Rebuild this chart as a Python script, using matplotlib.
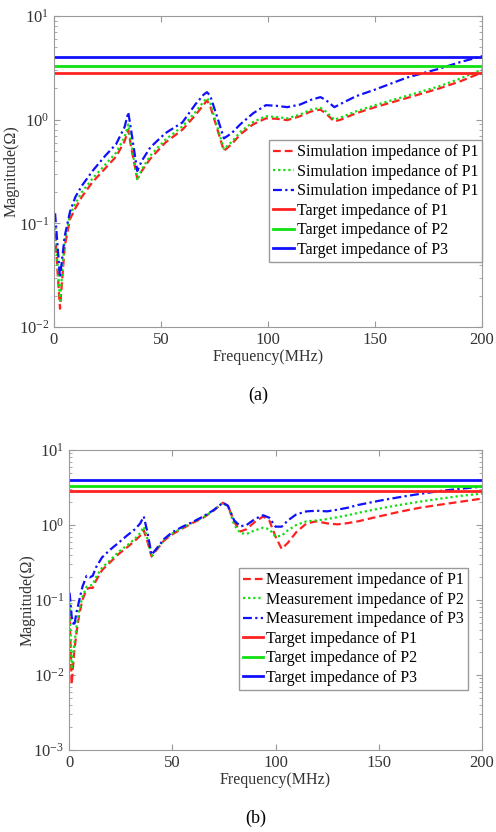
import matplotlib
matplotlib.use('Agg')
import matplotlib.pyplot as plt
import numpy as np

plt.rcParams['font.family'] = ['Liberation Serif', 'DejaVu Serif']
plt.rcParams['mathtext.fontset'] = 'custom'
plt.rcParams['mathtext.rm'] = 'Liberation Serif'

# (a) simulation
f_a = [0.5, 2.8, 5, 7.5, 10, 13, 18, 24, 29, 33, 34.7, 36, 38.9, 41, 45, 52, 60, 66, 70, 71.5, 73,
       76, 79.4, 83, 87, 93, 99, 104, 109, 115, 120, 124.5, 127, 131, 134, 141, 150, 165, 180, 190, 200]
sim_p1 = [0.08, 0.015, 0.06, 0.11, 0.14, 0.18, 0.25, 0.34, 0.44, 0.62, 0.80, 0.55, 0.27, 0.32, 0.42,
          0.60, 0.80, 1.1, 1.4, 1.53, 1.35, 0.85, 0.50, 0.58, 0.72, 0.90, 1.03, 1.02, 0.99, 1.08, 1.20,
          1.25, 1.15, 0.96, 1.0, 1.15, 1.32, 1.62, 2.0, 2.35, 2.85]
sim_p2 = [0.09, 0.018, 0.068, 0.12, 0.155, 0.2, 0.27, 0.37, 0.48, 0.68, 0.90, 0.6, 0.26, 0.33, 0.45,
          0.64, 0.86, 1.18, 1.5, 1.62, 1.45, 0.9, 0.52, 0.61, 0.76, 0.95, 1.08, 1.06, 1.03, 1.12, 1.25,
          1.3, 1.2, 1.0, 1.05, 1.2, 1.38, 1.7, 2.1, 2.5, 3.05]
sim_p3 = [0.125, 0.03, 0.075, 0.13, 0.18, 0.23, 0.32, 0.45, 0.58, 0.85, 1.18, 0.8, 0.32, 0.40, 0.54,
          0.74, 0.94, 1.4, 1.75, 1.84, 1.7, 1.1, 0.66, 0.74, 0.9, 1.15, 1.38, 1.36, 1.32, 1.4, 1.55,
          1.65, 1.55, 1.32, 1.42, 1.68, 1.95, 2.55, 3.1, 3.6, 4.1]

# (b) measurement
f_b = [0.3, 1.3, 2.5, 3.7, 5, 6.5, 8.5, 10, 11.5, 13, 16, 20, 24, 28, 32, 34.5, 36.2, 38, 40, 42, 46,
       50, 55, 60, 65, 70, 74.5, 77, 80, 83, 86, 90, 94, 97, 100, 103, 106, 110, 115, 120, 125, 130,
       135, 140, 150, 160, 170, 180, 190, 200]
meas_p1 = [0.06, 0.0075, 0.02, 0.038, 0.065, 0.1, 0.14, 0.145, 0.145, 0.18, 0.25, 0.32, 0.41, 0.5,
           0.62, 0.72, 0.85, 0.6, 0.38, 0.45, 0.62, 0.75, 0.9, 1.07, 1.25, 1.55, 1.98, 1.8, 1.1, 0.82,
           0.88, 1.1, 1.3, 1.15, 0.7, 0.48, 0.58, 0.8, 1.05, 1.12, 1.05, 1.02, 1.06, 1.12, 1.3, 1.5,
           1.7, 1.87, 2.05, 2.25]
meas_p2 = [0.09, 0.012, 0.025, 0.045, 0.075, 0.11, 0.15, 0.155, 0.16, 0.2, 0.27, 0.34, 0.44, 0.53,
           0.66, 0.78, 0.95, 0.65, 0.38, 0.46, 0.63, 0.77, 0.92, 1.09, 1.27, 1.56, 1.98, 1.75, 1.0,
           0.78, 0.76, 0.85, 0.92, 0.88, 0.7, 0.72, 0.85, 1.0, 1.12, 1.15, 1.2, 1.27, 1.35, 1.45,
           1.65, 1.85, 2.05, 2.25, 2.45, 2.62]
meas_p3 = [0.125, 0.06, 0.045, 0.07, 0.1, 0.15, 0.21, 0.2, 0.21, 0.27, 0.37, 0.47, 0.58, 0.72, 0.88,
           1.05, 1.3, 0.8, 0.4, 0.47, 0.65, 0.8, 0.95, 1.1, 1.3, 1.58, 1.98, 1.8, 1.15, 0.96, 1.0,
           1.2, 1.35, 1.25, 0.95, 0.95, 1.15, 1.38, 1.52, 1.55, 1.52, 1.6, 1.7, 1.85, 2.1, 2.35, 2.6,
           2.85, 3.05, 3.25]

# target impedances P1, P2, P3
target = [2.8, 3.3, 4.0]

renk = ['#ff2020', '#10e010', '#1010ff']
cizgi = [(0, (3.5, 1.8)), (0, (1, 1.3)), (0, (4, 1.5, 1, 1.5))]   # matlab benzeri kesikli cizgiler
gri = '#9a9a9a'
yazi = 11.5

fig = plt.figure(figsize=(4.96, 8.32), dpi=100)

def eksen_ayarla(ax, ymin):
    ax.set_yscale('log')
    ax.set_xlim(0, 200)
    ax.set_ylim(ymin, 10)
    ax.set_xticks([0, 50, 100, 150, 200])
    ax.tick_params(which='both', direction='in', top=True, right=True, colors='#333333',
                   labelsize=12)
    ax.tick_params(which='both', color=gri)
    ax.tick_params(which='major', length=4)
    ax.tick_params(which='minor', length=2)
    for s in ax.spines.values():
        s.set_color(gri)
    ax.set_xlabel('Frequency(MHz)', fontsize=yazi, color='#333333', labelpad=1)
    ax.set_ylabel('Magnitude(\u03a9)', fontsize=yazi, color='#333333')
    ax.yaxis.set_label_coords(-0.08, 0.5)

def lejant(ax, x, y):
    leg = ax.legend(loc='lower right', bbox_to_anchor=(x, y), fontsize=yazi, handlelength=1.3,
                    handletextpad=0.15, labelspacing=0.22, borderaxespad=0, fancybox=False,
                    framealpha=1, borderpad=0.25)
    leg.get_frame().set_edgecolor(gri)

# ---- (a)
ax1 = fig.add_axes([54/496, 1-327/832, 428/496, 311/832])
etiket_a = ['Simulation impedance of P1', 'Simulation impedance of P1', 'Simulation impedance of P1']
for y, c, ls, lab in zip([sim_p1, sim_p2, sim_p3], renk, cizgi, etiket_a):
    ax1.plot(f_a, y, linestyle=ls, color=c, lw=1.6, label=lab)
for i, t in enumerate(target):
    ax1.axhline(t, color=renk[i], lw=2, label='Target impedance of P%d' % (i+1))
eksen_ayarla(ax1, 0.01)
lejant(ax1, 1.0, 0.21)
fig.text(0.52, 1-395/832, '(a)', ha='center', va='center', fontsize=13)

# ---- (b)
ax2 = fig.add_axes([69/496, 1-750/832, 413/496, 300/832])
etiket_b = ['Measurement impedance of P1', 'Measurement impedance of P2', 'Measurement impedance of P3']
for y, c, ls, lab in zip([meas_p1, meas_p2, meas_p3], renk, cizgi, etiket_b):
    ax2.plot(f_b, y, linestyle=ls, color=c, lw=1.6, label=lab)
for i, t in enumerate(target):
    ax2.axhline(t, color=renk[i], lw=2, label='Target impedance of P%d' % (i+1))
eksen_ayarla(ax2, 0.001)
lejant(ax2, 0.965, 0.2)
fig.text(0.515, 1-818/832, '(b)', ha='center', va='center', fontsize=13)

fig.savefig('out.png', dpi=100)
